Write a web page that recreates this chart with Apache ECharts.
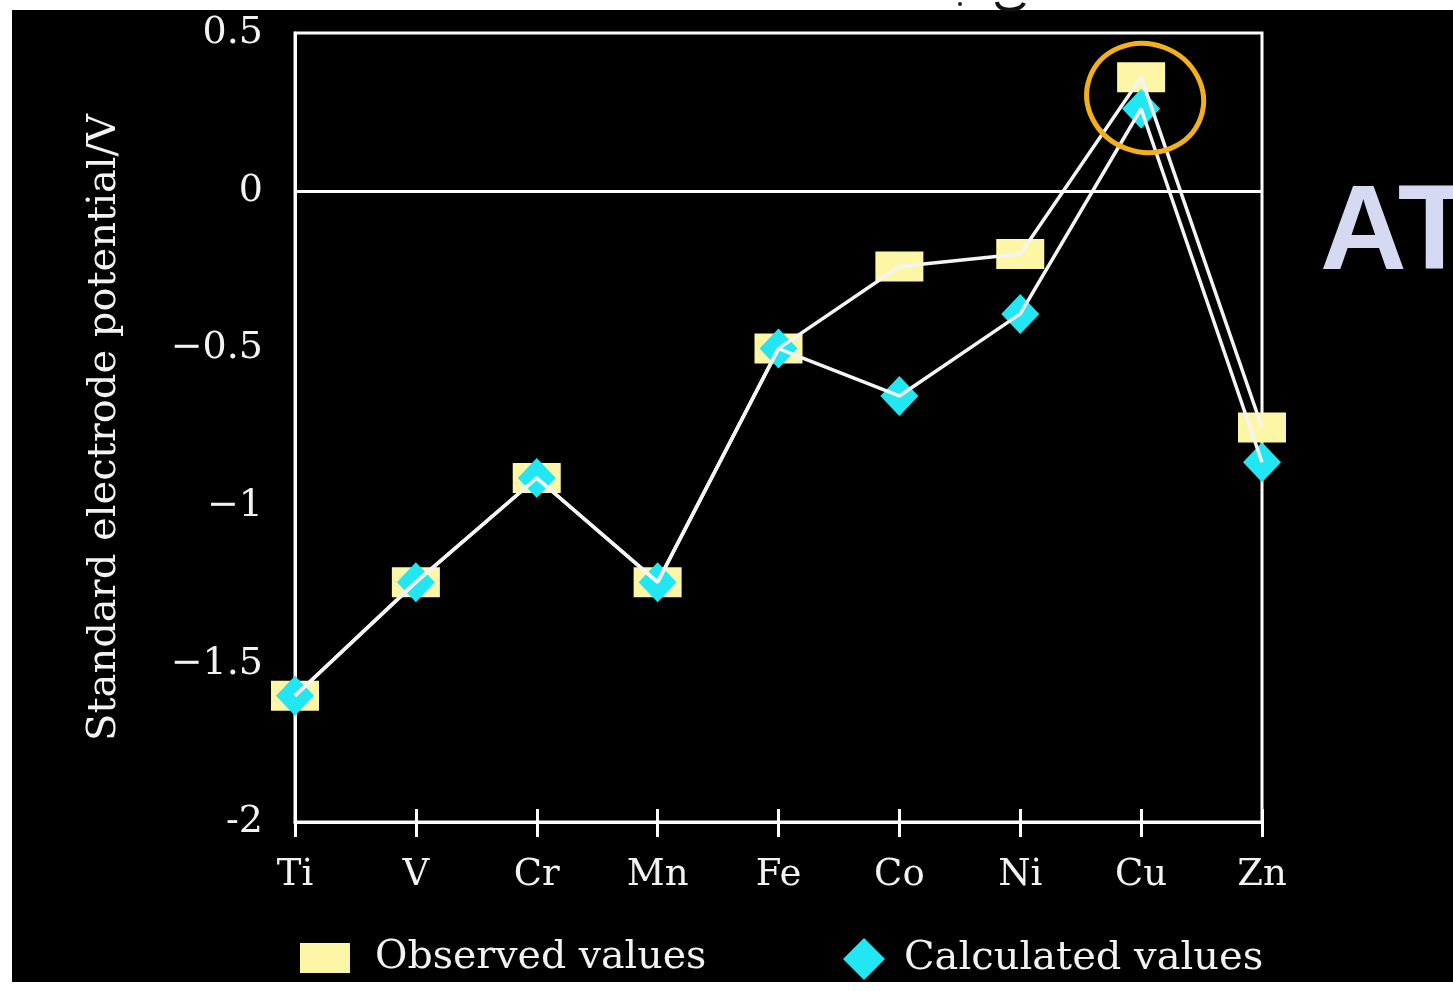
<!DOCTYPE html>
<html>
<head>
<meta charset="utf-8">
<script src="https://cdn.jsdelivr.net/npm/echarts@6/dist/echarts.min.js"></script>
<style>
  html, body { margin: 0; padding: 0; background: #ffffff; }
  #backdrop { position: absolute; left: 12px; top: 10px; width: 1441px; height: 972px; background: #000; }
  #chart { position: absolute; left: 0; top: 0; width: 1453px; height: 991px; }
</style>
</head>
<body>
<div id="backdrop"></div>
<div id="chart"></div>
<script>
// Standard electrode potentials (M2+/M) across the first transition series
const elements = ['Ti', 'V', 'Cr', 'Mn', 'Fe', 'Co', 'Ni', 'Cu', 'Zn'];
const observedValues = [-1.60, -1.24, -0.91, -1.24, -0.50, -0.24, -0.20, 0.36, -0.75];
const calculatedValues = [-1.60, -1.24, -0.91, -1.24, -0.50, -0.65, -0.39, 0.26, -0.86];
const yTickLabels = { '0.5': '0.5', '0': '0', '-0.5': '\u22120.5', '-1': '\u22121', '-1.5': '\u22121.5', '-2': '-2' };

const serif = 'DejaVu Serif';
const ink = '#f2f2f2';

const chart = echarts.init(document.getElementById('chart'), null, { renderer: 'canvas' });

chart.setOption({
  backgroundColor: 'transparent',
  animation: false,
  grid: {
    left: 295, right: 191, top: 33, bottom: 169,
    show: true, borderColor: '#ffffff', borderWidth: 3, backgroundColor: 'transparent'
  },
  legend: [
    {
      left: 295, top: 933,
      itemWidth: 50, itemHeight: 30, itemGap: 0,
      data: [{ name: 'Observed values', icon: 'rect', itemStyle: { color: '#fdf6a6', opacity: 1 } }],
      textStyle: { color: ink, fontFamily: serif, fontSize: 39.5, padding: [0, 0, 0, 20] }
    },
    {
      left: 838, top: 933,
      itemWidth: 42, itemHeight: 42, itemGap: 0,
      data: [{ name: 'Calculated values', icon: 'diamond', itemStyle: { color: '#22e6f2', opacity: 1 } }],
      textStyle: { color: ink, fontFamily: serif, fontSize: 40, padding: [0, 0, 0, 14] }
    }
  ],
  xAxis: [
    {
      type: 'category', data: elements, boundaryGap: false, position: 'bottom',
      axisLine: { onZero: false, lineStyle: { color: '#ffffff', width: 3 } },
      axisTick: { show: true, inside: false, length: 15, lineStyle: { color: '#ffffff', width: 3 } },
      axisLabel: { color: ink, fontFamily: serif, fontSize: 37, margin: 35 },
      splitLine: { show: false }
    },
    {
      type: 'category', data: elements, boundaryGap: false, position: 'bottom',
      axisLine: { show: false, onZero: false },
      axisTick: { show: true, inside: true, length: 13, lineStyle: { color: '#ffffff', width: 3 } },
      axisLabel: { show: false },
      splitLine: { show: false }
    }
  ],
  yAxis: {
    type: 'value', min: -2, max: 0.5, interval: 0.5,
    name: 'Standard electrode potential/V',
    nameLocation: 'middle', nameGap: 170, nameRotate: 90,
    nameTextStyle: { color: ink, fontFamily: serif, fontSize: 40 },
    axisLine: { show: true, lineStyle: { color: '#ffffff', width: 3 } },
    axisTick: { show: false },
    axisLabel: {
      color: ink, fontFamily: serif, fontSize: 38, margin: 32,
      formatter: v => yTickLabels[String(v)] ?? String(v)
    },
    splitLine: { show: false }
  },
  series: [
    {
      name: 'Observed values', type: 'scatter', z: 2,
      symbol: 'rect', symbolSize: [48, 30],
      itemStyle: { color: '#fdf6a6', opacity: 1 },
      data: observedValues
    },
    {
      name: 'Calculated values', type: 'scatter', z: 3,
      symbol: 'diamond', symbolSize: [38, 40],
      itemStyle: { color: '#22e6f2', opacity: 1 },
      data: calculatedValues
    },
    {
      name: 'observed trend', type: 'line', z: 4, showSymbol: false, silent: true,
      lineStyle: { color: '#f4f4f4', width: 3.5 },
      data: observedValues,
      markLine: {
        silent: true, symbol: 'none', label: { show: false },
        lineStyle: { color: '#ffffff', width: 3, type: 'solid' },
        data: [{ yAxis: 0 }]
      }
    },
    {
      name: 'calculated trend', type: 'line', z: 4, showSymbol: false, silent: true,
      lineStyle: { color: '#f4f4f4', width: 3.5 },
      data: calculatedValues
    }
  ]
});

// Highlight ring around copper, side heading and the pen stroke along the top edge
const cuIndex = elements.indexOf('Cu');
const cuTop = chart.convertToPixel({ seriesIndex: 0 }, [cuIndex, observedValues[cuIndex]]);
const cuLow = chart.convertToPixel({ seriesIndex: 1 }, [cuIndex, calculatedValues[cuIndex]]);
const ringX = cuTop[0] + 4;
const ringY = (cuTop[1] + cuLow[1]) / 2 + 5;
chart.setOption({
  graphic: [
    {
      type: 'ellipse', z: 10,
      shape: { cx: ringX, cy: ringY, rx: 59, ry: 54 },
      rotation: -0.35, originX: ringX, originY: ringY,
      style: { fill: 'none', stroke: '#f2b01e', lineWidth: 5 }
    },
    {
      type: 'text', z: 10, left: 1320, top: 176,
      style: { text: 'AT', fill: '#d5d9f2', font: 'bold 120px "Liberation Sans", Arial, sans-serif' }
    },
    {
      type: 'bezierCurve', z: 10,
      shape: { x1: 997, y1: 2, x2: 1024, y2: 3, cpx1: 998, cpy1: 12, cpx2: 1020, cpy2: 12 },
      style: { stroke: '#111111', lineWidth: 4, fill: 'none' }
    },
    {
      type: 'circle', z: 10,
      shape: { cx: 960, cy: 4, r: 2 },
      style: { fill: '#222222' }
    }
  ]
});
</script>
</body>
</html>
